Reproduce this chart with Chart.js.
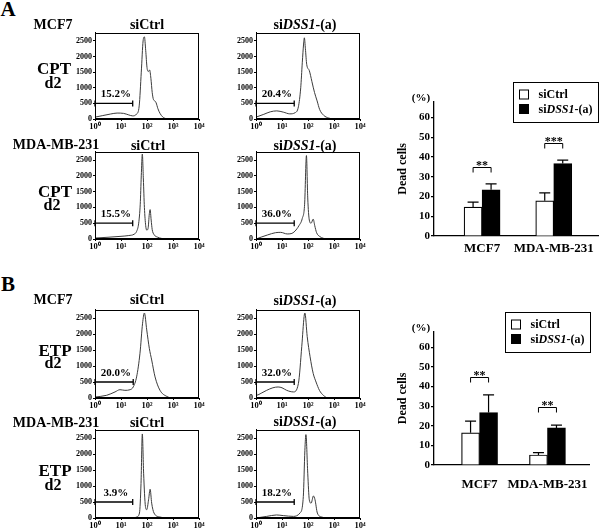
<!DOCTYPE html>
<html><head><meta charset="utf-8">
<script src="https://cdn.jsdelivr.net/npm/chart.js@4.4.1/dist/chart.umd.min.js"></script>
<style>
html,body{margin:0;padding:0;background:#fff;}
body{width:600px;height:532px;overflow:hidden;position:relative;font-family:"Liberation Serif","Times New Roman",serif;color:#000;}
.box{position:absolute;}
.t{position:absolute;transform:translate(-50%,-50%);white-space:nowrap;font-weight:bold;line-height:1;}
</style></head><body>
<script>
// ---------- DATA ----------
const xTickValues = [1, 10, 100, 1000, 10000];
const xTickLabels = ['10⁰', '10¹', '10²', '10³', '10⁴'];
const yTickValues = [0, 500, 1000, 1500, 2000, 2500];
const gateLevel = 500;
// histograms: [log10 fluorescence, cell count]
const mcf7CptCtrl = [[0,60],[0.3,110],[0.6,160],[0.85,190],[1.1,180],[1.3,130],[1.45,100],[1.6,160],[1.7,420],[1.78,1500],[1.85,2500],[1.9,2630],[1.95,2200],[2.0,1650],[2.05,1520],[2.1,1570],[2.15,1300],[2.2,850],[2.25,620],[2.3,580],[2.35,520],[2.42,330],[2.5,180],[2.6,70],[2.75,10],[3.0,0],[4.0,0]];
const mcf7CptDss1 = [[0,60],[0.3,150],[0.55,230],[0.8,260],[1.05,220],[1.3,165],[1.5,200],[1.63,390],[1.72,1000],[1.78,1800],[1.83,2400],[1.86,2600],[1.9,2250],[1.95,1750],[2.05,1550],[2.15,1200],[2.25,850],[2.35,580],[2.45,300],[2.6,120],[2.8,30],[3.0,0],[4.0,0]];
const mdaCptCtrl = [[0,30],[0.5,55],[1.0,85],[1.3,110],[1.5,150],[1.6,240],[1.68,500],[1.74,1100],[1.78,2000],[1.82,2690],[1.86,1900],[1.9,1000],[1.95,420],[1.99,280],[2.04,330],[2.09,800],[2.12,930],[2.16,600],[2.2,300],[2.27,140],[2.4,60],[2.55,20],[2.75,0],[4.0,0]];
const mdaCptDss1 = [[0,0],[0.2,60],[0.45,130],[0.75,200],[0.95,210],[1.2,160],[1.35,170],[1.5,250],[1.65,420],[1.78,650],[1.87,1100],[1.94,2640],[1.99,1300],[2.05,600],[2.12,500],[2.2,630],[2.26,420],[2.33,200],[2.45,80],[2.6,20],[2.75,0],[4.0,0]];
const mcf7EtpCtrl = [[0,30],[0.45,85],[0.77,190],[0.96,260],[1.15,240],[1.35,260],[1.47,345],[1.6,660],[1.73,1400],[1.83,2340],[1.9,2660],[1.99,2130],[2.09,1550],[2.18,1190],[2.31,660],[2.5,240],[2.76,50],[3.0,0],[4.0,0]];
const mcf7EtpDss1 = [[0,780],[0.03,90],[0.2,150],[0.41,240],[0.65,320],[0.85,345],[1.0,320],[1.18,240],[1.44,190],[1.63,450],[1.76,1610],[1.85,2550],[1.88,2660],[1.97,1920],[2.08,1290],[2.2,770],[2.31,500],[2.44,240],[2.59,85],[2.78,0],[4.0,0]];
const mdaEtpCtrl = [[0,0],[1.47,0],[1.6,30],[1.71,155],[1.77,1080],[1.82,2630],[1.87,1400],[1.94,360],[1.99,260],[2.06,570],[2.12,900],[2.18,465],[2.27,155],[2.5,30],[2.76,0],[4.0,0]];
const mdaEtpDss1 = [[0,0],[0.41,50],[0.79,95],[1.05,75],[1.44,50],[1.69,155],[1.82,670],[1.88,2120],[1.92,2610],[1.99,1400],[2.05,570],[2.12,465],[2.21,690],[2.27,570],[2.36,155],[2.53,30],[2.72,0],[4.0,0]];
const gateEnds = [1.45, 1.47, 1.45, 1.47, 1.47, 1.47, 1.45, 1.47];
const gateLabels = ['15.2%', '20.4%', '15.5%', '36.0%', '20.0%', '32.0%', '3.9%', '18.2%'];

const categories = ['MCF7', 'MDA-MB-231'];
const seriesLabels = ['siCtrl', 'si<i>DSS1</i>-(a)'];
const barYTicks = [0, 10, 20, 30, 40, 50, 60];
const cptCtrl = [14.6, 17.8];
const cptCtrlSd = [2.6, 4.0];
const cptDss1 = [23.4, 36.7];
const cptDss1Sd = [3.0, 1.7];
const cptSig = ['**', '***'];
const cptSigLevel = [35, 47];
const etpCtrl = [16.4, 5.1];
const etpCtrlSd = [6.0, 1.2];
const etpDss1 = [26.8, 18.9];
const etpDss1Sd = [9.0, 1.4];
const etpSig = ['**', '**'];
const etpSigLevel = [44.9, 29.8];

// ---------- SETUP ----------
const FONT = '"Liberation Serif", "Times New Roman", serif';
Chart.defaults.font.family = FONT;
Chart.defaults.font.weight = 'bold';
Chart.defaults.color = '#000';

function addText(html, x, y, size){
  const d = document.createElement('div');
  d.className = 't';
  d.style.left = x + 'px'; d.style.top = y + 'px'; d.style.fontSize = size + 'px';
  d.innerHTML = html;
  document.body.appendChild(d);
}
function makeCanvas(left, top, w, h){
  const wrap = document.createElement('div');
  wrap.className = 'box';
  wrap.style.cssText = `left:${left}px;top:${top}px;width:${w}px;height:${h}px;`;
  const cv = document.createElement('canvas');
  wrap.appendChild(cv);
  document.body.appendChild(wrap);
  return cv;
}
function drawRich(ctx, str, x, y, size){
  const parts = str.split(/(<i>.*?<\/i>)/).filter(Boolean);
  for (const p of parts){
    const it = p.startsWith('<i>');
    const t = it ? p.slice(3, -4) : p;
    ctx.font = `${it ? 'italic ' : ''}bold ${size}px ${FONT}`;
    ctx.fillText(t, x, y);
    x += ctx.measureText(t).width;
  }
}

const framePlugin = {
  id: 'frame',
  afterDraw(c){
    const a = c.chartArea, ctx = c.ctx;
    ctx.save();
    ctx.strokeStyle = '#000'; ctx.lineWidth = 1;
    const l = Math.round(a.left) + 0.5, t = Math.round(a.top) + 0.5;
    const r = Math.round(a.right) - 0.5, b = Math.round(a.bottom) - 0.5;
    ctx.strokeRect(l, t, r - l, b - t);
    ctx.restore();
  }
};
const histLabelPlugin = {
  id: 'histLabel',
  afterDatasetsDraw(c, args, opts){
    const ctx = c.ctx;
    ctx.save();
    ctx.font = `bold 11px ${FONT}`;
    ctx.fillStyle = '#000';
    ctx.textAlign = 'center'; ctx.textBaseline = 'middle';
    ctx.fillText(opts.text, c.scales.x.getPixelForValue(Math.pow(10, 0.8)), c.scales.y.getPixelForValue(gateLevel + 280));
    ctx.restore();
  }
};

function histChart(p){
  const W = 104 + 30 + 8, H = p.h + 5 + 14;
  const cv = makeCanvas(p.left - 30, p.top - 5, W, H);
  new Chart(cv, {
    type: 'line',
    data: { datasets: [
      { data: p.data.map(([d, c]) => ({ x: Math.pow(10, d), y: c })), borderColor: '#3c3c3c', borderWidth: 1,
        pointRadius: 0, cubicInterpolationMode: 'monotone', fill: false },
      { data: [{ x: 1, y: gateLevel }, { x: Math.pow(10, p.gate), y: gateLevel }], borderColor: '#000', borderWidth: 1.3,
        pointStyle: 'line', pointRotation: 90, pointRadius: 3, pointBorderWidth: 1.3, pointBorderColor: '#000', clip: false }
    ]},
    options: {
      responsive: true, maintainAspectRatio: false, animation: false, events: [],
      layout: { padding: { top: 5, right: 8, left: 0, bottom: 0 } },
      plugins: { legend: { display: false }, tooltip: { enabled: false }, histLabel: { text: p.label } },
      scales: {
        x: { type: 'logarithmic', min: 1, max: 10000,
          afterBuildTicks: s => { s.ticks = xTickValues.map(v => ({ value: v })); },
          afterFit: s => { s.height = 14; },
          ticks: { autoSkip: false, maxRotation: 0, padding: 1, font: { size: 8.5, weight: 'bold' }, color: '#000',
            callback: (v, i) => xTickLabels[i] },
          grid: { drawOnChartArea: false, tickLength: 2, color: '#000' },
          border: { color: '#000', width: 1 } },
        y: { min: 0, max: 2760,
          afterBuildTicks: s => { s.ticks = yTickValues.map(v => ({ value: v })); },
          afterFit: s => { s.width = 30; },
          ticks: { padding: 1, font: { size: 8, weight: 'bold' }, color: '#000', callback: v => String(v) },
          grid: { drawOnChartArea: false, tickLength: 2, color: '#000' },
          border: { color: '#000', width: 1 } }
      }
    },
    plugins: [framePlugin, histLabelPlugin]
  });
}

const barExtrasPlugin = {
  id: 'barExtras',
  afterDatasetsDraw(c, args, o){
    const ctx = c.ctx, ys = c.scales.y, a = c.chartArea;
    ctx.save();
    ctx.strokeStyle = '#000'; ctx.fillStyle = '#000'; ctx.lineWidth = 1.2;
    // error bars (upper)
    o.sd.forEach((sd, di) => {
      const meta = c.getDatasetMeta(di);
      meta.data.forEach((el, j) => {
        const v = c.data.datasets[di].data[j].y;
        const yt = ys.getPixelForValue(v + sd[j]);
        ctx.beginPath();
        ctx.moveTo(el.x, el.y); ctx.lineTo(el.x, yt);
        ctx.moveTo(el.x - 5.5, yt); ctx.lineTo(el.x + 5.5, yt);
        ctx.stroke();
      });
    });
    // significance brackets
    ctx.lineWidth = 1;
    const m0 = c.getDatasetMeta(0), m1 = c.getDatasetMeta(1);
    o.sig.forEach((s, j) => {
      const x0 = m0.data[j].x, x1 = m1.data[j].x;
      const y = Math.round(ys.getPixelForValue(o.sigLevel[j])) + 0.5;
      ctx.beginPath();
      ctx.moveTo(x0, y + 5); ctx.lineTo(x0, y); ctx.lineTo(x1, y); ctx.lineTo(x1, y + 5);
      ctx.stroke();
      ctx.font = `bold 12px ${FONT}`;
      ctx.textAlign = 'center'; ctx.textBaseline = 'alphabetic';
      ctx.fillText(s, (x0 + x1) / 2, y + 1.5);
    });
    // (%) unit label
    ctx.font = `bold 11px ${FONT}`;
    ctx.textAlign = 'center'; ctx.textBaseline = 'middle';
    ctx.fillText('(%)', a.left - 13, a.top - 4);
    // legend box
    const bw = 85, bh = 40;
    const bx = Math.round(a.right) - bw + 0.5, by = Math.round(a.top - 19.5) + 0.5;
    ctx.lineWidth = 1;
    ctx.strokeRect(bx, by, bw, bh);
    c.data.datasets.forEach((ds, i) => {
      const sy = by + 7.5 + i * 14.5;
      ctx.fillStyle = ds.backgroundColor;
      ctx.fillRect(bx + 6, sy, 9, 9);
      ctx.strokeStyle = '#000'; ctx.lineWidth = 1;
      ctx.strokeRect(bx + 6, sy, 9, 9);
      ctx.fillStyle = '#000';
      ctx.textAlign = 'left'; ctx.textBaseline = 'middle';
      drawRich(ctx, ds.label, bx + 25, sy + 5, 12);
    });
    ctx.restore();
  }
};

function barChart(b){
  const cv = makeCanvas(b.left, b.top, 220, 200);
  new Chart(cv, {
    type: 'bar',
    data: { datasets: [
      { label: seriesLabels[0], data: b.ctrl.map((v, i) => ({ x: i + 1, y: v })), backgroundColor: '#fff', borderColor: '#000', borderWidth: 1.2, barThickness: 18 },
      { label: seriesLabels[1], data: b.dss1.map((v, i) => ({ x: i + 1, y: v })), backgroundColor: '#000', borderColor: '#000', borderWidth: 1.2, barThickness: 18 }
    ]},
    options: {
      responsive: true, maintainAspectRatio: false, animation: false, events: [],
      layout: { padding: { top: 41.7, right: 1.7, left: 0, bottom: 0 } },
      plugins: { legend: { display: false }, tooltip: { enabled: false },
        barExtras: { sd: [b.ctrlSd, b.dss1Sd], sig: b.sig, sigLevel: b.sigLevel } },
      scales: {
        x: { type: 'linear', min: 0.329, max: 2.622, offset: false,
          afterBuildTicks: s => { s.ticks = categories.map((c, i) => ({ value: i + 1 })); },
          afterFit: s => { s.height = b.xh; },
          ticks: { autoSkip: false, maxRotation: 0, padding: b.labelPad, font: { size: 13, weight: 'bold' }, color: '#000',
            callback: (v, i) => categories[i] },
          grid: { display: true, offset: false, drawOnChartArea: false, drawTicks: false, color: '#000' },
          border: { color: '#000', width: 1.3 } },
        y: { min: 0, max: 68,
          afterBuildTicks: s => { s.ticks = barYTicks.map(v => ({ value: v })); },
          afterFit: s => { s.width = 54; },
          ticks: { padding: 1, font: { size: 11, weight: 'bold' }, color: '#000' },
          title: { display: true, text: 'Dead cells', font: { size: 12, weight: 'bold' }, color: '#000', padding: { top: 15.3, bottom: 0 } },
          grid: { drawOnChartArea: false, tickLength: 3, color: '#000', lineWidth: 1.2 },
          border: { color: '#000', width: 1.3 } }
      }
    },
    plugins: [barExtrasPlugin]
  });
}

// ---------- LAYOUT ----------
const histData = [mcf7CptCtrl, mcf7CptDss1, mdaCptCtrl, mdaCptDss1, mcf7EtpCtrl, mcf7EtpDss1, mdaEtpCtrl, mdaEtpDss1];
const rowTops = [32, 151, 309, 429];
const rowHeights = [87, 88, 89, 89];
const colLefts = [95, 256];
histData.forEach((d, k) => {
  const r = Math.floor(k / 2), c = k % 2;
  histChart({ data: d, gate: gateEnds[k], label: gateLabels[k], left: colLefts[c], top: rowTops[r], h: rowHeights[r] });
});

barChart({ left: 380, top: 60, xh: 24, labelPad: 5, ctrl: cptCtrl, ctrlSd: cptCtrlSd, dss1: cptDss1, dss1Sd: cptDss1Sd, sig: cptSig, sigLevel: cptSigLevel });
barChart({ left: 380, top: 290, xh: 25, labelPad: 12, ctrl: etpCtrl, ctrlSd: etpCtrlSd, dss1: etpDss1, dss1Sd: etpDss1Sd, sig: etpSig, sigLevel: etpSigLevel });

// text labels
const dssHead = 'si<i>DSS1</i>-(a)';
addText('A', 8, 9, 21);
addText('B', 8, 284, 21);
addText('MCF7', 53, 25, 14); addText('siCtrl', 147, 25, 14); addText(dssHead, 305, 25, 14);
addText('CPT', 54, 68, 17); addText('d2', 53, 83, 16);
addText('MDA-MB-231', 56, 145, 14); addText('siCtrl', 148, 146, 14); addText(dssHead, 305, 146, 14);
addText('CPT', 55, 191, 17); addText('d2', 52, 205, 16);
addText('MCF7', 53, 300, 14); addText('siCtrl', 147, 300, 14); addText(dssHead, 305, 301, 14);
addText('ETP', 55, 350, 17); addText('d2', 53, 363, 16);
addText('MDA-MB-231', 56, 423, 14); addText('siCtrl', 147, 423, 14); addText(dssHead, 305, 422, 14);
addText('ETP', 55, 470, 17); addText('d2', 53, 485, 16);
</script>
</body></html>
